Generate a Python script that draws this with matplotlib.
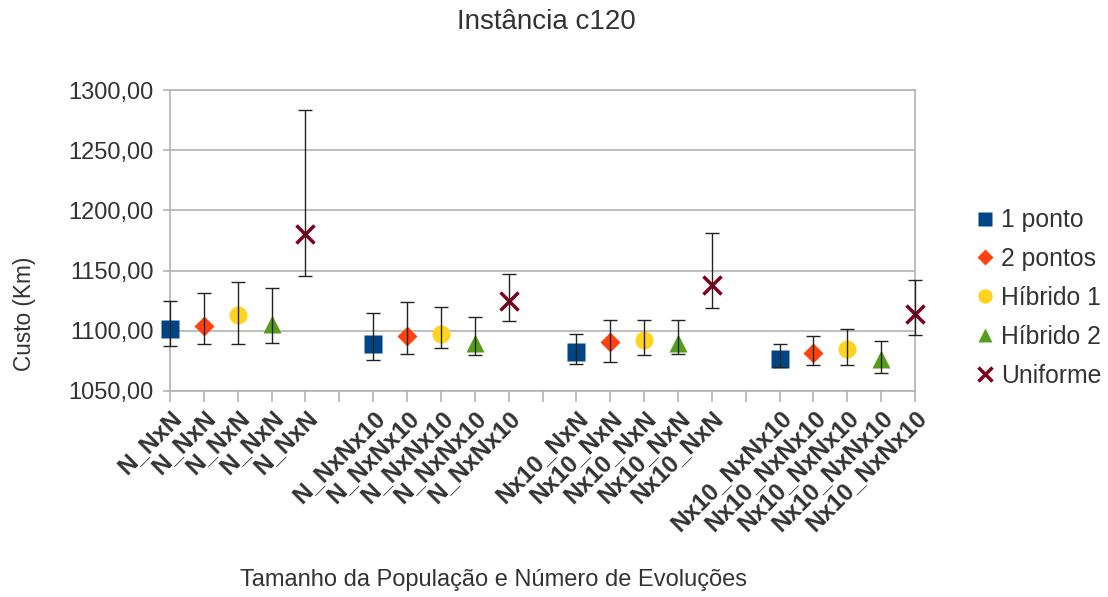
import numpy as np
import matplotlib.pyplot as plt
from matplotlib.ticker import FuncFormatter

plt.rcParams['font.family'] = ['Liberation Sans', 'DejaVu Sans']

groups = ["N_NxN", "N_NxNx10", "Nx10_NxN", "Nx10_NxNx10"]
series = ["1 ponto", "2 pontos", "Híbrido 1", "Híbrido 2", "Uniforme"]

# mean cost per group, and the ends of the error bars
um_ponto = [1101.2, 1089.0, 1082.4, 1076.3]
um_ponto_lo = [1087.6, 1075.7, 1072.7, 1070.2]
um_ponto_hi = [1124.5, 1115.1, 1097.3, 1089.3]

dois_pontos = [1104.0, 1095.7, 1091.0, 1081.3]
dois_pontos_lo = [1088.8, 1080.7, 1073.8, 1071.7]
dois_pontos_hi = [1131.7, 1123.9, 1109.0, 1095.4]

hibrido1 = [1112.8, 1097.6, 1092.4, 1084.6]
hibrido1_lo = [1088.8, 1086.0, 1079.9, 1071.7]
hibrido1_hi = [1140.3, 1120.0, 1109.0, 1101.5]

hibrido2 = [1106.0, 1089.6, 1089.6, 1076.3]
hibrido2_lo = [1089.6, 1079.9, 1080.4, 1065.0]
hibrido2_hi = [1135.5, 1111.2, 1109.0, 1091.3]

uniforme = [1180.4, 1125.0, 1137.8, 1114.0]
uniforme_lo = [1145.8, 1108.1, 1119.2, 1096.5]
uniforme_hi = [1283.4, 1147.5, 1181.5, 1142.2]

means = [um_ponto, dois_pontos, hibrido1, hibrido2, uniforme]
lows = [um_ponto_lo, dois_pontos_lo, hibrido1_lo, hibrido2_lo, uniforme_lo]
highs = [um_ponto_hi, dois_pontos_hi, hibrido1_hi, hibrido2_hi, uniforme_hi]

colors = ['#004586', '#ff420e', '#ffd320', '#579d1c', '#7e0021']
markers = ['s', 'D', 'o', '^', 'x']
msizes = [13, 10, 13, 13, 13]

txt = '#333333'
grid = '#b3b3b3'

fig = plt.figure(figsize=(11.08, 5.97), dpi=100)
ax = fig.add_axes([170/1108, 1-391/597, 745/1108, 301/597])

step = len(series) + 1
for s in range(len(series)):
    x = np.arange(len(groups)) * step + s
    m = np.array(means[s])
    lo = np.array(lows[s])
    hi = np.array(highs[s])
    if markers[s] == 'x':
        ax.plot(x, m, linestyle='none', marker='x', ms=msizes[s], mew=2.5,
                color=colors[s], zorder=3, label=series[s], clip_on=False)
    else:
        ax.plot(x, m, linestyle='none', marker=markers[s], ms=msizes[s],
                mec='none', color=colors[s], zorder=3, label=series[s], clip_on=False)
    ax.errorbar(x, m, yerr=[m - lo, hi - m], fmt='none', ecolor='#222222',
                elinewidth=1, capsize=5, capthick=1, zorder=4, clip_on=False)

ncat = len(groups) * step - 1
ticklabels = []
for g in groups:
    ticklabels += [g] * len(series) + ['']
ticklabels = ticklabels[:ncat]

ax.set_xlim(0, ncat - 1)
ax.set_xticks(np.arange(ncat))
ax.set_xticklabels(ticklabels, rotation=45, ha='right', rotation_mode='anchor',
                   fontsize=17.5, color=txt, fontweight='bold')
ax.set_ylim(1050, 1300)
ax.set_yticks(np.arange(1050, 1301, 50))
ax.yaxis.set_major_formatter(FuncFormatter(lambda v, p: f"{v:.2f}".replace('.', ',')))
ax.tick_params(axis='y', labelsize=17, colors=grid, labelcolor=txt, length=5, width=1.2, pad=7)
ax.tick_params(axis='x', colors=grid, labelcolor=txt, length=8, width=1.2, pad=3)

ax.yaxis.grid(True, color=grid, linewidth=1.2)
ax.set_axisbelow(True)
for sp in ax.spines.values():
    sp.set_color(grid)
    sp.set_linewidth(1.2)

fig.text(546/1108, 1-22/597, "Instância c120", ha='center', va='center', fontsize=20, color=txt)
fig.text(25/1108, 1-314/597, "Custo (Km)", ha='center', va='center', rotation=90,
         fontsize=16.3, color=txt)
fig.text(494/1108, 1-580/597, "Tamanho da População e Número de Evoluções",
         ha='center', va='center', fontsize=17, color=txt)

handles, labels = ax.get_legend_handles_labels()
leg = fig.legend(handles, labels, loc='upper left', bbox_to_anchor=(955/1108, 1-186/597),
                 frameon=False, fontsize=17.8, handlelength=0.6, handletextpad=0.35,
                 labelspacing=0.6, markerscale=0.8, labelcolor=txt)

fig.savefig('out.png', dpi=100)
